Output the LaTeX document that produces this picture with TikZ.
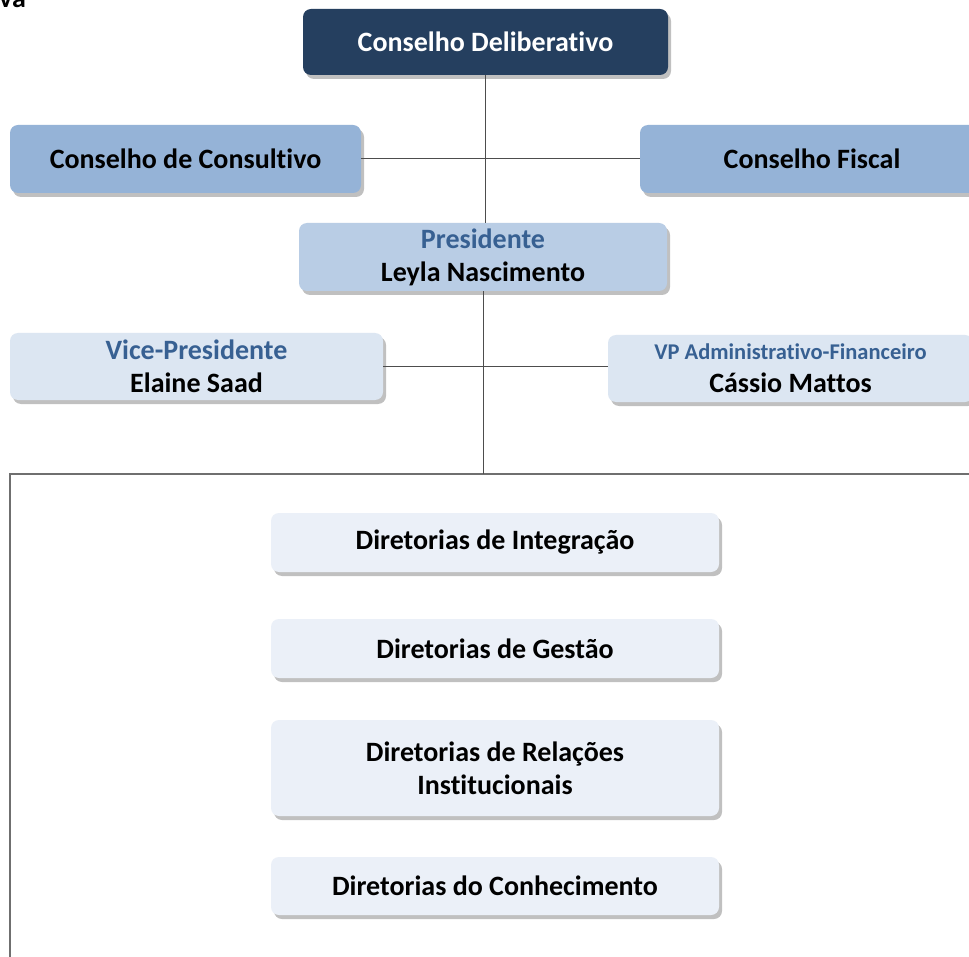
\documentclass[tikz,border=0pt]{standalone}
\usepackage{fontspec}
\setmainfont{Carlito}[Ligatures=NoCommon]
\usetikzlibrary{shadows}
\definecolor{cDark}{HTML}{253F5F}
\definecolor{cMid}{HTML}{95B3D7}
\definecolor{cPres}{HTML}{B9CDE5}
\definecolor{cVp}{HTML}{DCE6F2}
\definecolor{cDir}{HTML}{EBF0F8}
\definecolor{cTitle}{HTML}{376092}
\definecolor{cLine}{HTML}{4D4D4D}
\definecolor{cFrame}{HTML}{6F6F6F}
\tikzset{
  box/.style={rounded corners=8pt, inner sep=0pt, align=center, font=\bfseries\fontsize{28}{33}\selectfont,
    drop shadow={shadow xshift=3pt, shadow yshift=-4pt, opacity=0.35, fill=black!70}},
  conn/.style={draw=cLine, line width=1pt},
  frame/.style={draw=cFrame, line width=2pt},
}
\begin{document}
\begin{tikzpicture}[x=1pt,y=-1pt]
\useasboundingbox (0,0) rectangle (969,957);
\clip (0,0) rectangle (969,957);
\fill[white] (0,0) rectangle (969,957);

\node[anchor=base west, inner sep=0pt, font=\bfseries\fontsize{28}{30}\selectfont] (va) at (-1,8) {va};

% frame
\draw[frame] (10,970) -- (10,474) -- (980,474);

\node[box, fill=cDark, text=white, minimum width=365pt, minimum height=66pt] (delib) at (485.5,42) {Conselho Deliberativo};
\node[box, fill=cMid, minimum width=351pt, minimum height=68pt] (consult) at (185.5,159) {Conselho de Consultivo};
\node[box, fill=cMid, minimum width=344pt, minimum height=68pt] (fiscal) at (812,159) {Conselho Fiscal};
\node[box, fill=cPres, minimum width=368pt, minimum height=68pt] (pres) at (483,257) {\textcolor{cTitle}{Presidente}\\Leyla Nascimento};
\node[box, fill=cVp, minimum width=373pt, minimum height=67pt] (vice) at (196.5,366.5) {\textcolor{cTitle}{Vice-Presidente}\\Elaine Saad};
\node[box, fill=cVp, minimum width=365pt, minimum height=67pt] (vpaf) at (790.5,368.5) {\textcolor{cTitle}{\fontsize{22.5}{33}\selectfont VP Administrativo-Financeiro}\\Cássio Mattos};

\node[box, fill=cDir, minimum width=448pt, minimum height=59pt] (d1) at (495,542.5) {Diretorias de Integração};
\node[box, fill=cDir, minimum width=448pt, minimum height=59pt] (d2) at (495,648.5) {Diretorias de Gestão};
\node[box, fill=cDir, minimum width=448pt, minimum height=96pt] (d3) at (495,768) {Diretorias de Relações\\Institucionais};
\node[box, fill=cDir, minimum width=448pt, minimum height=58pt] (d4) at (495,886) {Diretorias do Conhecimento};

\coordinate (ftop) at (483,474);
\draw[conn] (delib.south) -- (delib.south |- pres.north);
\draw[conn] (consult.east) -- (fiscal.west);
\draw[conn] (pres.south) -- (ftop);
\draw[conn] (vice.east) -- (vice.east -| vpaf.west);
\end{tikzpicture}
\end{document}
